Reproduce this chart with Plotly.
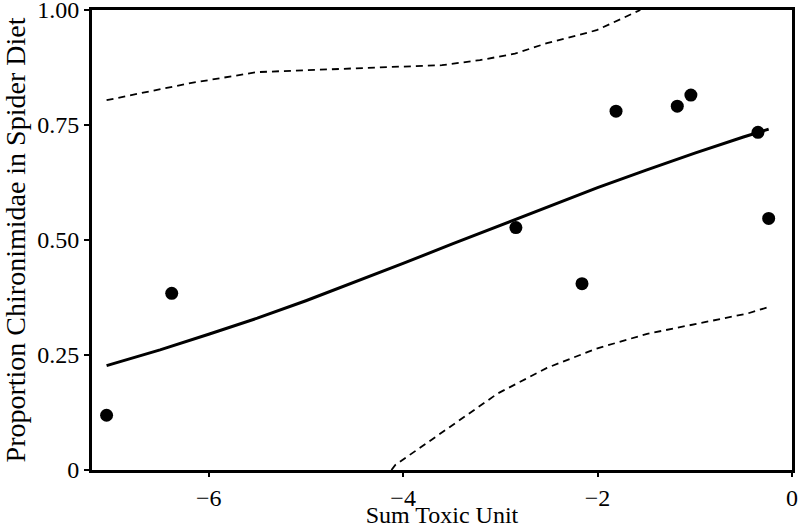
import plotly.graph_objects as go

# Observed data points
obs_x = [-7.05, -6.38, -2.84, -2.16, -1.81, -1.18, -1.04, -0.35, -0.24]
obs_y = [0.119, 0.384, 0.527, 0.405, 0.780, 0.791, 0.815, 0.734, 0.547]

# Fitted curve
fit_x = [-7.05, -6.5, -6.0, -5.5, -5.0, -4.5, -4.0, -3.5, -3.0, -2.5, -2.0, -1.5, -1.0, -0.5, -0.24]
fit_y = [0.227, 0.261, 0.295, 0.330, 0.368, 0.408, 0.449, 0.491, 0.532, 0.573, 0.614, 0.652, 0.689, 0.724, 0.741]

# Upper confidence band
up_x = [-7.05, -6.19, -5.50, -4.83, -4.14, -3.60, -3.21, -2.85, -2.52, -2.01, -1.56]
up_y = [0.804, 0.841, 0.865, 0.871, 0.876, 0.880, 0.891, 0.905, 0.928, 0.956, 1.0]

# Lower confidence band
lo_x = [-4.12, -4.08, -3.55, -3.03, -2.52, -2.01, -1.49, -0.98, -0.46, -0.26]
lo_y = [0.0, 0.011, 0.089, 0.166, 0.222, 0.264, 0.296, 0.318, 0.340, 0.353]

x_ticks = [-6, -4, -2, 0]
x_tick_text = ["\u22126", "\u22124", "\u22122", "0"]
y_ticks = [0, 0.25, 0.5, 0.75, 1.0]
y_tick_text = ["0", "0.25", "0.50", "0.75", "1.00"]

FONT = "Liberation Serif, Times New Roman, serif"

fig = go.Figure()
fig.add_trace(go.Scatter(x=up_x, y=up_y, mode="lines",
                         line=dict(color="black", width=1.8, dash="7px,5px")))
fig.add_trace(go.Scatter(x=lo_x, y=lo_y, mode="lines",
                         line=dict(color="black", width=1.8, dash="7px,5px")))
fig.add_trace(go.Scatter(x=fit_x, y=fit_y, mode="lines",
                         line=dict(color="black", width=3)))
fig.add_trace(go.Scatter(x=obs_x, y=obs_y, mode="markers",
                         marker=dict(color="black", size=13)))

fig.update_layout(
    width=798, height=528,
    margin=dict(l=92, r=6, t=10, b=58, autoexpand=False),
    paper_bgcolor="white", plot_bgcolor="white",
    showlegend=False,
    font=dict(family=FONT, color="black", size=24),
)
fig.update_xaxes(
    range=[-7.2, 0], tickvals=x_ticks, ticktext=x_tick_text,
    showgrid=False, zeroline=False, automargin=False,
    showline=True, linecolor="black", linewidth=3, mirror=True,
    ticks="outside", ticklen=4, tickwidth=2, tickcolor="black",
    tickfont=dict(size=24), ticklabeloverflow="allow",
    title=dict(text="Sum Toxic Unit", font=dict(size=24), standoff=4),
)
fig.update_yaxes(
    range=[0, 1], tickvals=y_ticks, ticktext=y_tick_text,
    showgrid=False, zeroline=False, automargin=False,
    showline=True, linecolor="black", linewidth=3, mirror=True,
    ticks="outside", ticklen=5, tickwidth=2, tickcolor="black",
    tickfont=dict(size=24), ticklabeloverflow="allow",
    title=dict(text="Proportion Chironimidae in Spider Diet", font=dict(size=28), standoff=4),
)

fig.write_html(
    "out.html",
    config={"displayModeBar": False},
    post_script="document.body.style.margin='0';document.body.style.overflow='hidden';",
)
